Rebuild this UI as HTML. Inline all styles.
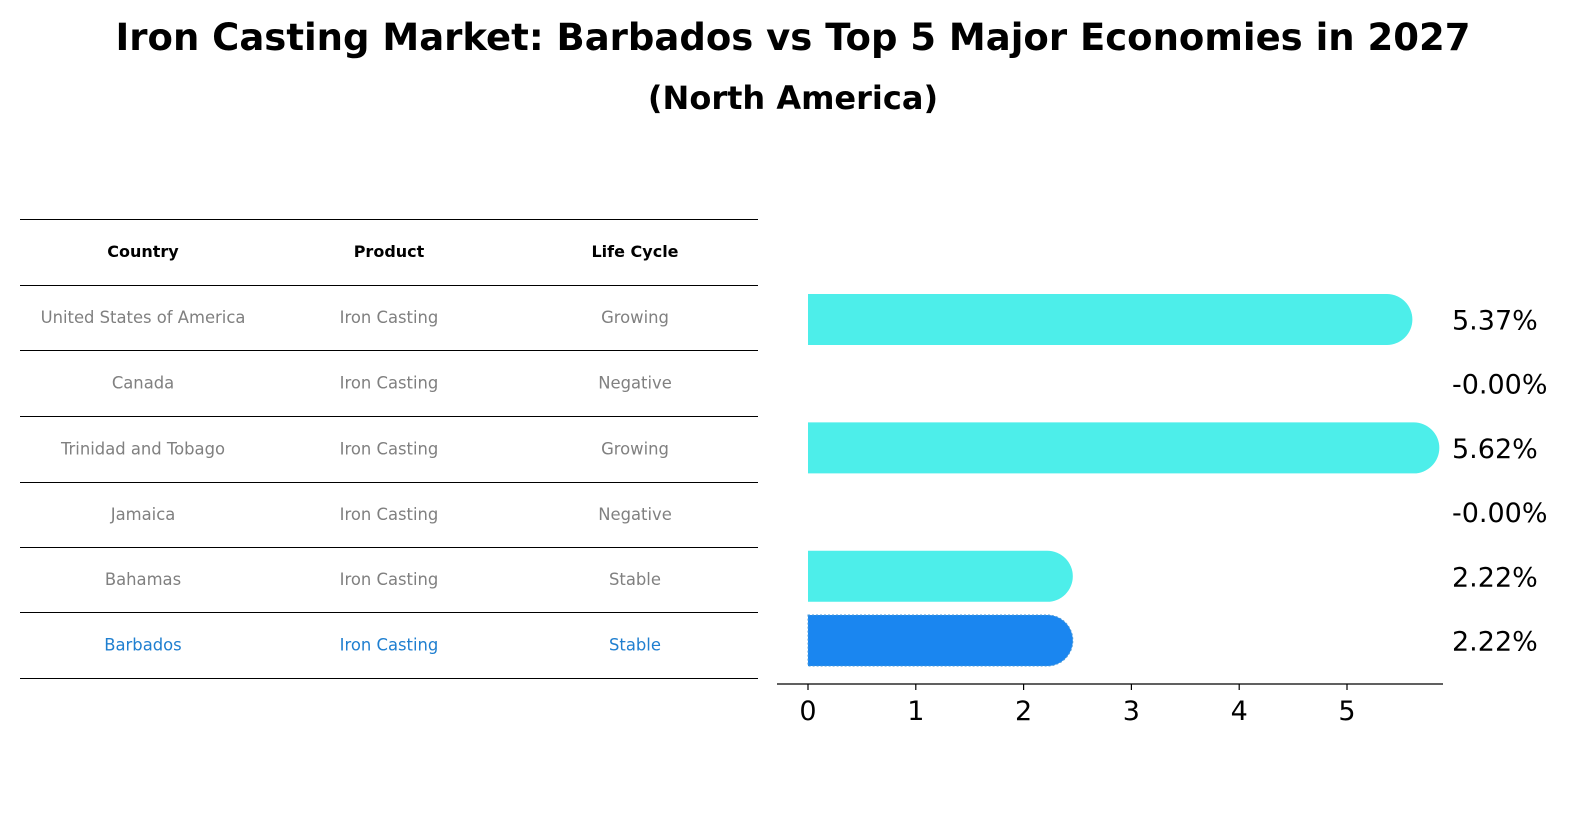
<!DOCTYPE html>
<html><head><meta charset="utf-8"><style>
body{margin:0;background:#fff;font-family:"Liberation Sans","DejaVu Sans",sans-serif}
</style></head><body>
<svg width="1596" height="823" viewBox="0 0 1596 823" xmlns="http://www.w3.org/2000/svg" font-family="DejaVu Sans, Liberation Sans, sans-serif">
<text x="793" y="50" text-anchor="middle" font-size="37" font-weight="bold">Iron Casting Market: Barbados vs Top 5 Major Economies in 2027</text>
<text x="793" y="109" text-anchor="middle" font-size="32" font-weight="bold">(North America)</text>
<g id="table"></g>
<g id="bars"></g>
</svg>
<script>
const countries=["United States of America","Canada","Trinidad and Tobago","Jamaica","Bahamas","Barbados"];
const products=["Iron Casting","Iron Casting","Iron Casting","Iron Casting","Iron Casting","Iron Casting"];
const lifeCycles=["Growing","Negative","Growing","Negative","Stable","Stable"];
const growth=[5.37,-0.00,5.62,-0.00,2.22,2.22];
const xTicks=[0,1,2,3,4,5];
const NS="http://www.w3.org/2000/svg";
function mk(t,a,p){const e=document.createElementNS(NS,t);for(const k in a)e.setAttribute(k,a[k]);p.appendChild(e);return e;}
const tbl=document.getElementById('table');
const rowY=[219.5,285.5,350.5,416.5,482.5,547.5,612.5,678.5];
const colX=[143,389,635];
rowY.forEach((y,i)=>{const l=mk('line',{x1:20,x2:758,y1:y,y2:y,stroke:'#000','stroke-width':1},tbl);

});
["Country","Product","Life Cycle"].forEach((h,j)=>{const t=mk('text',{x:colX[j],y:257,'text-anchor':'middle','font-size':16,'font-weight':'bold'},tbl);t.textContent=h;

});
countries.forEach((c,i)=>{const y=(rowY[i+1]+rowY[i+2])/2+5;const col=i===5?'#1f7fd0':'#808080';
[c,products[i],lifeCycles[i]].forEach((v,j)=>{const t=mk('text',{x:colX[j],y:y,'text-anchor':'middle','font-size':16.4,fill:col},tbl);t.textContent=v;

});});
const g=document.getElementById('bars');
const x0=808,sc=107.8,axisY=684;
const xs=v=>x0+v*sc;
const yc=i=>319.5+i*64.2;
const h=51,r=25.5;
growth.forEach((v,i)=>{
 const fill=i===5?'#1a86f0':'#4deeea';
 if(v>0){
  const xe=xs(v),top=yc(i)-h/2;
  const p=mk('path',{d:`M${x0},${top} H${xe} A${r},${r} 0 0 1 ${xe},${top+h} H${x0} Z`,fill:fill},g);
  if(i===5){p.setAttribute('stroke','#4a9ad8');p.setAttribute('stroke-dasharray','2,2');p.setAttribute('stroke-width','1');}
  
  
 }
 const t=mk('text',{x:1452,y:yc(i)+10,'font-size':27},g);t.textContent=v.toFixed(2)+'%';
 if(v===0)t.textContent='-0.00%';
 
 
});
const ax=mk('line',{x1:777,x2:1443,y1:axisY,y2:axisY,stroke:'#000','stroke-width':1.3},g);


xTicks.forEach(v=>{const l=mk('line',{x1:xs(v),x2:xs(v),y1:axisY,y2:axisY+6,stroke:'#000','stroke-width':1.2},g);


const t=mk('text',{x:xs(v),y:axisY+36,'text-anchor':'middle','font-size':27},g);t.textContent=v;

});
</script>
</body></html>
